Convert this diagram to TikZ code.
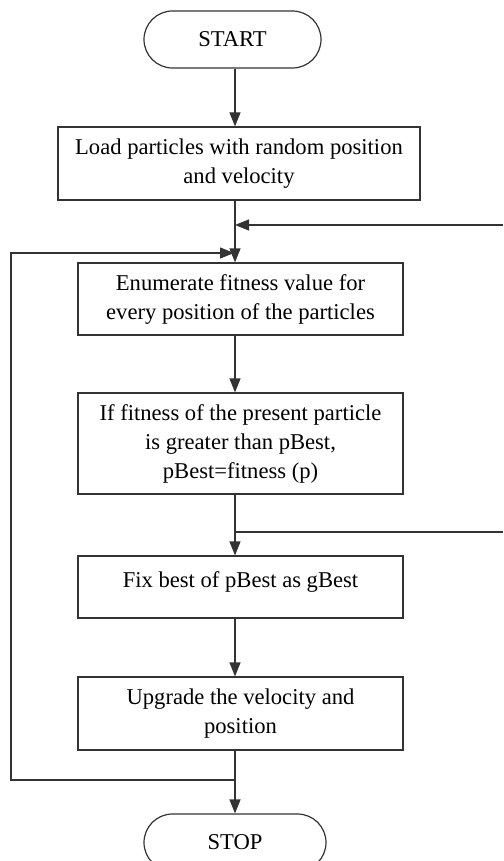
\documentclass[tikz,border=0pt]{standalone}
\usepackage{fontspec}
\setmainfont{Liberation Serif}
\usetikzlibrary{arrows.meta,shapes.misc,calc}
\begin{document}
\begin{tikzpicture}[x=1pt,y=1pt,
  every node/.style={font=\fontsize{22.6}{29}\selectfont, text=black},
  ln/.style={line width=1.2pt, draw=black!80},
  procbox/.style={draw=black!80, line width=1.2pt, rectangle, align=center, inner sep=0pt},
  term/.style={draw=black!80, line width=1.2pt, rounded rectangle, minimum height=57pt, inner sep=0pt},
  arr/.style={ln, -{Triangle[length=14pt,width=11pt]}}]
\useasboundingbox (0,0) rectangle (503,-861);
\clip (0,0) rectangle (503,-861);
\coordinate (ax) at (235,0);
\node[term, minimum width=177pt] (start) at (232.5,-39.5) {START};
\node[procbox, minimum width=362pt, minimum height=73pt] (load) at (239,-163.5) {Load particles with random position\\and velocity};
\node[procbox, minimum width=325pt, minimum height=72pt] (enum) at (240.5,-299) {Enumerate fitness value for\\every position of the particles};
\node[procbox, minimum width=325pt, minimum height=101pt] (if) at (240.5,-443.5) {If fitness of the present particle\\is greater than pBest,\\pBest=fitness (p)};
\node[procbox, minimum width=325pt, minimum height=62pt, text depth=14pt] (fix) at (240.5,-587) {Fix best of pBest as gBest};
\node[procbox, minimum width=325pt, minimum height=73pt] (upg) at (240.5,-713.5) {Upgrade the velocity and\\position};
\node[term, minimum width=182pt] (stop) at (235,-842.5) {STOP};
\coordinate (r1) at (503,-225);
\coordinate (r2) at (503,-532);
\coordinate (l1) at (11,-253);
\coordinate (jn) at (235,-780);
\draw[arr] (start.south -| ax) -- (load.north -| ax);
\draw[arr] (load.south -| ax) -- (enum.north -| ax);
\draw[arr] (r1) -- (r1 -| ax);
\draw[arr, shorten >=1pt] (jn) -| (l1) -- (l1 -| ax);
\draw[arr] (enum.south -| ax) -- (if.north -| ax);
\draw[arr] (if.south -| ax) -- (fix.north -| ax);
\draw[ln] (r2) -- (r2 -| ax);
\draw[arr] (fix.south -| ax) -- (upg.north -| ax);
\draw[arr] (upg.south -| ax) -- (stop.north -| ax);
\end{tikzpicture}
\end{document}
